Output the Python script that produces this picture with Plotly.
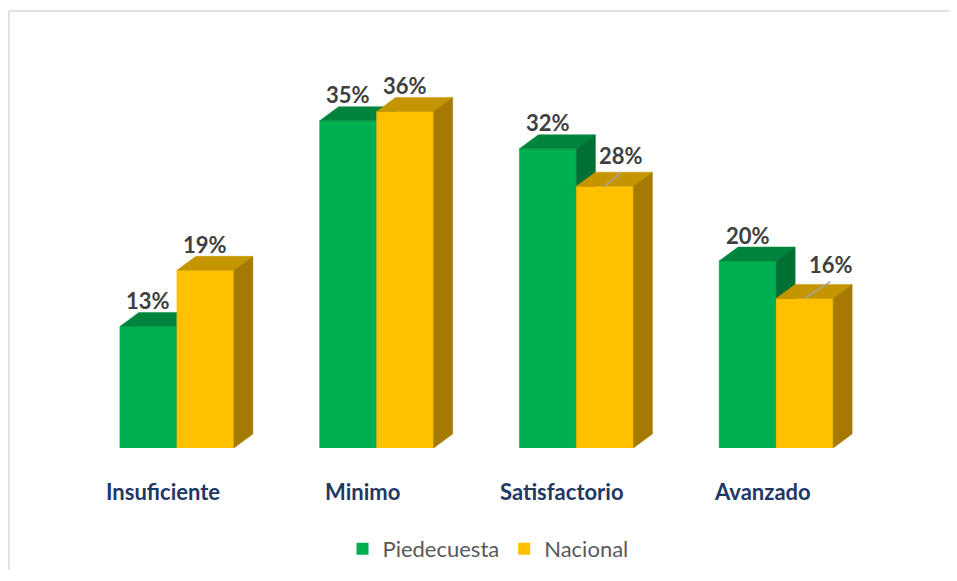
import plotly.graph_objects as go

# ---- data ----
categories = ["Insuficiente", "Minimo", "Satisfactorio", "Avanzado"]
piedecuesta = [13, 35, 32, 20]
nacional = [19, 36, 28, 16]
series_names = ["Piedecuesta", "Nacional"]

# ---- style ----
OFF = 8  # browser body margin
W, H = 957 - 2 * OFF, 581 - 2 * OFF - 3
ML, MT = 77 - OFF, 74 - OFF
PW, PH = 799, 374
MR, MB = W - ML - PW, H - MT - PH
XR = [-0.5, 3.5]
YR = [0, 40]
px_x = PW / (XR[1] - XR[0])
px_y = PH / (YR[1] - YR[0])

BAR_W = 57 / px_x
DX = 19 / px_x
DY = 14 / px_y

colors = {
    "Piedecuesta": ("#00B050", "#00843D", "#006F33"),
    "Nacional": ("#FFC000", "#C59500", "#A47B00"),
}
label_color = "#404040"
cat_color = "#1F3864"
FONT = "Lato, 'Open Sans', sans-serif"

# label offsets (px) per series / category; default above bar
label_offsets = {("Nacional", 2): (16, 31), ("Nacional", 3): (26, 34)}
DEFAULT_LABEL_DY = 26

fig = go.Figure()


def polys(xcs, vals):
    fx, fy, tx, ty, sx, sy = [], [], [], [], [], []
    for xc, v in zip(xcs, vals):
        x0, x1 = xc - BAR_W / 2, xc + BAR_W / 2
        fx += [x0, x1, x1, x0, x0, None]
        fy += [0, 0, v, v, 0, None]
        tx += [x0, x1, x1 + DX, x0 + DX, x0, None]
        ty += [v, v, v + DY, v + DY, v, None]
        sx += [x1, x1 + DX, x1 + DX, x1, x1, None]
        sy += [0, DY, v + DY, v, 0, None]
    return (fx, fy), (tx, ty), (sx, sy)


offsets = {"Piedecuesta": -BAR_W / 2, "Nacional": BAR_W / 2}
annotations = []
for name, vals in zip(series_names, [piedecuesta, nacional]):
    xcs = [i + offsets[name] for i in range(len(categories))]
    faces = polys(xcs, vals)
    for (px_, py_), col in zip(faces, colors[name]):
        fig.add_trace(go.Scatter(
            x=px_, y=py_, mode="lines", fill="toself", fillcolor=col,
            line=dict(width=0.5, color=col), hoverinfo="skip", showlegend=False))
    for i, (xc, v) in enumerate(zip(xcs, vals)):
        ox, oy = label_offsets.get((name, i), (0, DEFAULT_LABEL_DY))
        annotations.append(dict(
            x=xc, y=v, xref="x", yref="y", text=f"<b>{v}%</b>", showarrow=False,
            xshift=ox, yshift=oy, xanchor="center", yanchor="middle",
            font=dict(family=FONT, size=22, color=label_color)))
        if (name, i) in label_offsets:
            fig.add_trace(go.Scatter(
                x=[xc, xc + ox / px_x], y=[v, v + (oy - 17) / px_y],
                mode="lines", line=dict(color="#A6A6A6", width=1.5),
                hoverinfo="skip", showlegend=False))

# legend-only traces
for name in series_names:
    fig.add_trace(go.Bar(x=[None], y=[None], name=name,
                         marker=dict(color=colors[name][0], line=dict(width=0))))

for i, c in enumerate(categories):
    annotations.append(dict(
        x=i, y=0, xref="x", yref="y", text=f"<b>{c}</b>", showarrow=False,
        xshift=-14, yshift=-43, xanchor="center", yanchor="middle",
        font=dict(family=FONT, size=22, color=cat_color)))

# border (top + left) in paper coords
bx0 = (1 - ML) / PW
bx1 = (W - ML) / PW
by0 = -MB / PH
by1 = (PH + MT - 3) / PH
border_line = dict(color="#D9D9D9", width=1.5)
borders = [
    dict(type="line", xref="paper", yref="paper", x0=bx0, x1=bx1, y0=by1, y1=by1, line=border_line),
    dict(type="line", xref="paper", yref="paper", x0=bx0, x1=bx0, y0=by0, y1=by1, line=border_line),
]

fig.update_layout(
    width=W, height=H,
    margin=dict(l=ML, r=MR, t=MT, b=MB, autoexpand=False),
    paper_bgcolor="white", plot_bgcolor="white",
    xaxis=dict(range=XR, visible=False, fixedrange=True),
    yaxis=dict(range=YR, visible=False, fixedrange=True),
    showlegend=True,
    legend=dict(orientation="h", xref="container", yref="container",
                x=(488 - OFF) / W, xanchor="center",
                y=1 - (549 - OFF) / H, yanchor="middle",
                font=dict(family=FONT, size=22, color="#595959"),
                itemwidth=30, bgcolor="rgba(0,0,0,0)"),
    annotations=annotations,
    shapes=borders,
)

fig.write_html("out.html")
